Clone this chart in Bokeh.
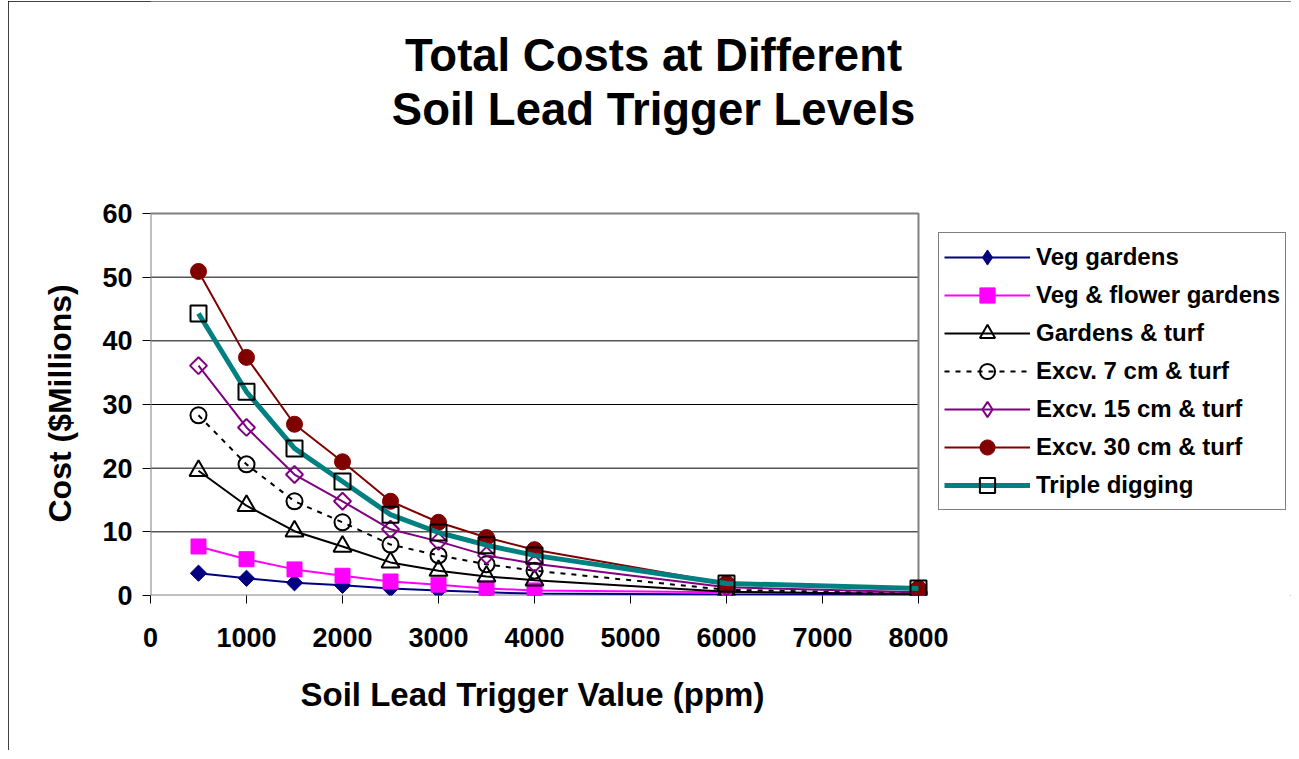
from bokeh.plotting import figure
from bokeh.models import Range1d, Legend, LegendItem, Label, FixedTicker, Title
from bokeh.embed import file_html
from bokeh.resources import INLINE
import math

trigger = [500, 1000, 1500, 2000, 2500, 3000, 3500, 4000, 6000, 8000]
veg_gardens = [3.5, 2.7, 2.0, 1.6, 1.1, 0.8, 0.5, 0.3, 0.15, 0.1]
veg_flower = [7.7, 5.7, 4.1, 3.1, 2.2, 1.7, 1.1, 0.8, 0.5, 0.3]
gardens_turf = [19.6, 14.1, 10.1, 7.7, 5.2, 3.9, 3.0, 2.4, 0.6, 0.2]
excv7 = [28.3, 20.6, 14.8, 11.5, 8.0, 6.3, 4.9, 3.9, 0.9, 0.3]
excv15 = [36.1, 26.4, 19.0, 14.8, 10.4, 8.5, 6.3, 5.0, 1.3, 0.5]
excv30 = [50.9, 37.4, 26.9, 21.0, 14.8, 11.5, 9.1, 7.2, 1.9, 1.1]
triple = [44.3, 32.0, 23.1, 17.9, 12.7, 9.9, 7.9, 6.3, 1.9, 1.1]

x_ticks = [0, 1000, 2000, 3000, 4000, 5000, 6000, 7000, 8000]
y_ticks = [0, 10, 20, 30, 40, 50, 60]
X_MAX, Y_MAX = 8000, 60

FONT = "Liberation Sans"

# pixel layout of the drawing area
W, H = 1283, 749
LEFT, BOTTOM = 142, 155
PLOT_W, PLOT_H = 768, 382          # size of the 0..8000 x 0..60 box
frame_w, frame_h = W - LEFT, H - BOTTOM
x_end = X_MAX * frame_w / PLOT_W
y_end = Y_MAX * frame_h / PLOT_H

p = figure(width=W, height=H, output_backend="svg", toolbar_location=None,
           x_range=Range1d(0, x_end), y_range=Range1d(0, y_end),
           min_border_left=LEFT, min_border_right=0, min_border_top=0,
           min_border_bottom=BOTTOM)
p.styles = {"outline": "1px solid black", "outline-offset": "-1px",
            "margin-left": "8px", "margin-top": "1px"}
p.background_fill_color = "white"
p.border_fill_color = "white"
p.outline_line_color = None
p.xgrid.grid_line_color = None
p.ygrid.grid_line_color = None

p.xaxis.ticker = FixedTicker(ticks=x_ticks)
p.yaxis.ticker = FixedTicker(ticks=y_ticks)
for ax in (p.xaxis, p.yaxis):
    ax.axis_line_color = None
    ax.major_tick_line_color = "black"
    ax.major_tick_line_width = 1
    ax.major_tick_out = 8
    ax.major_tick_in = 0
    ax.minor_tick_line_color = None
    ax.major_label_text_font = FONT
    ax.major_label_text_font_style = "bold"
    ax.major_label_text_font_size = "27px"
    ax.major_label_text_color = "black"
p.xaxis.major_label_standoff = 24
p.yaxis.major_label_standoff = 10

# axis titles, positioned along the 0..8000 / 0..60 box
p.add_layout(Title(text="Soil Lead Trigger Value (ppm)", align="left", offset=150,
                   vertical_align="top", standoff=52, text_font=FONT,
                   text_font_style="bold", text_font_size="33px",
                   text_color="black"), "below")
p.add_layout(Title(text="Cost ($Millions)", align="left", offset=73,
                   vertical_align="bottom", standoff=44, text_font=FONT,
                   text_font_style="bold", text_font_size="32px",
                   text_color="black"), "left")

# horizontal gridlines and plot-area border
grid_y = [t for t in y_ticks if 0 < t < Y_MAX]
p.segment(x0=[0] * len(grid_y), x1=[X_MAX] * len(grid_y), y0=grid_y, y1=grid_y,
          line_color="black", line_width=1)
p.quad(left=[0], right=[X_MAX], bottom=[0], top=[Y_MAX], fill_color=None,
       line_color="#808080", line_width=2)

items = []

def series(name, ys, color, marker, size, fill, lw=2, dash="solid",
           mcolor=None, angle=0.0, mlw=2, legend_marker=None, legend_size=None):
    l = p.line(trigger, ys, line_color=color, line_width=lw, line_dash=dash)
    mc = mcolor if mcolor else color
    fc = mc if fill else None
    s = p.scatter(trigger, ys, marker=marker, size=size, angle=angle,
                  line_color=mc, line_width=mlw, fill_color=fc)
    rs = [l, s]
    if legend_marker:
        # legend-only swatch (no visible points in the plot)
        lm = p.scatter(x=[math.nan], y=[math.nan], marker=legend_marker,
                       size=legend_size, line_color=mc, line_width=mlw,
                       fill_color=fc)
        rs = [l, lm]
    items.append(LegendItem(label=name, renderers=rs))

series("Veg gardens", veg_gardens, "#000080", "square", 11.5, True,
       angle=math.pi / 4, mlw=1, legend_marker="diamond", legend_size=18)
series("Veg & flower gardens", veg_flower, "#FF00FF", "square", 15, True, mlw=1)
series("Gardens & turf", gardens_turf, "black", "triangle", 18, False)
series("Excv. 7 cm & turf", excv7, "black", "circle", 16, False, dash="5 6")
series("Excv. 15 cm & turf", excv15, "#800080", "square", 12, False,
       angle=math.pi / 4, legend_marker="diamond", legend_size=18)
series("Excv. 30 cm & turf", excv30, "#800000", "circle", 16, True, mlw=1)
series("Triple digging", triple, "#008080", "square", 16, False, lw=5,
       mcolor="black")

legend = Legend(items=items, location=(788, 85))
legend.label_text_font = FONT
legend.label_text_font_style = "bold"
legend.label_text_font_size = "24px"
legend.label_text_color = "black"
legend.glyph_width = 86
legend.glyph_height = 38
legend.spacing = 0
legend.padding = 5
legend.margin = 0
legend.label_standoff = 6
legend.border_line_color = "black"
legend.border_line_width = 1
legend.background_fill_color = "white"
legend.background_fill_alpha = 1
p.add_layout(legend, "center")

for txt, yy in (("Total Costs at Different", 540), ("Soil Lead Trigger Levels", 486)):
    p.add_layout(Label(x=503, y=yy, x_units="screen", y_units="screen", text=txt,
                       text_align="center", text_baseline="alphabetic",
                       text_font=FONT, text_font_style="bold",
                       text_font_size="45.5px", text_color="black"))

open("out.html", "w").write(file_html(p, INLINE))
